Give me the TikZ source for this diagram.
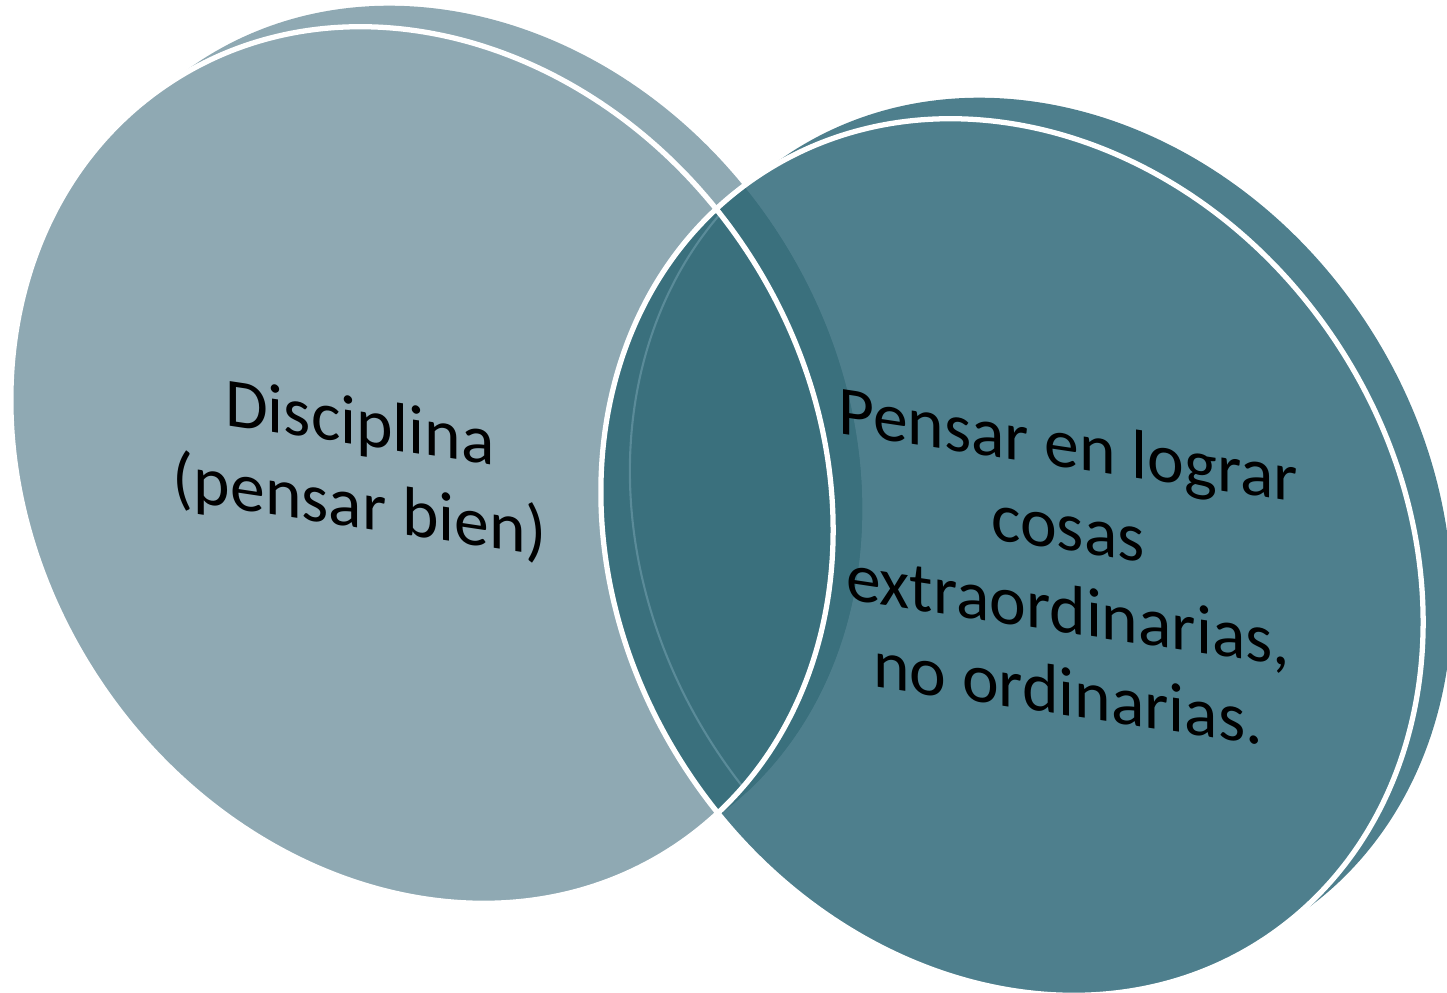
\documentclass[tikz,border=0pt]{standalone}
\usepackage{fontspec}
\setmainfont{Carlito}
\definecolor{clrDiscA}{HTML}{8FA9B3}
\definecolor{clrDiscB}{HTML}{4E7F8D}
\definecolor{clrLens}{HTML}{3A707D}
\definecolor{clrRim}{HTML}{5A8B99}

\begin{document}
\begin{tikzpicture}[
    faceA/.style={insert path={(4.22,5.27) ellipse [x radius=4.58, y radius=3.89, rotate=-56.6]}},
    backA/.style={insert path={(4.51,5.48) ellipse [x radius=4.58, y radius=3.89, rotate=-56.6]}},
    faceB/.style={insert path={(10.12,4.35) ellipse [x radius=4.58, y radius=3.89, rotate=-56.6]}},
    backB/.style={insert path={(10.41,4.56) ellipse [x radius=4.58, y radius=3.89, rotate=-56.6]}},
    rim/.style={draw=white, line width=1.5pt},
    discText/.style={font=\fontsize{19.8}{23.5}\selectfont, align=center,
                     yslant=-0.15, inner sep=0pt}
  ]
  \useasboundingbox (0,0) rectangle (14.47,9.92);

  % left disc
  \fill[clrDiscA, backA];
  \fill[clrDiscA, faceA];

  % right disc
  \fill[clrDiscB, backB];
  \fill[clrDiscB, faceB];

  % overlap
  \begin{scope}
    \clip[faceB];
    \fill[clrLens, backA];
    \fill[clrLens, faceA];
  \end{scope}
  \begin{scope}
    \clip[backB];
    \fill[clrLens, backA];
    \fill[clrLens, faceA];
  \end{scope}
  \begin{scope}
    \clip[faceA];
    \draw[clrRim, line width=0.6pt, backB];
  \end{scope}

  % white rims on top
  \path[rim, faceA];
  \path[rim, faceB];

  \node[discText] (textA) at (3.60,5.24) {Disciplina\\(pensar bien)};
  \node[discText] (textB) at (10.68,4.24)
    {Pensar en lograr\\cosas\\extraordinarias,\\no ordinarias.};
\end{tikzpicture}
\end{document}
